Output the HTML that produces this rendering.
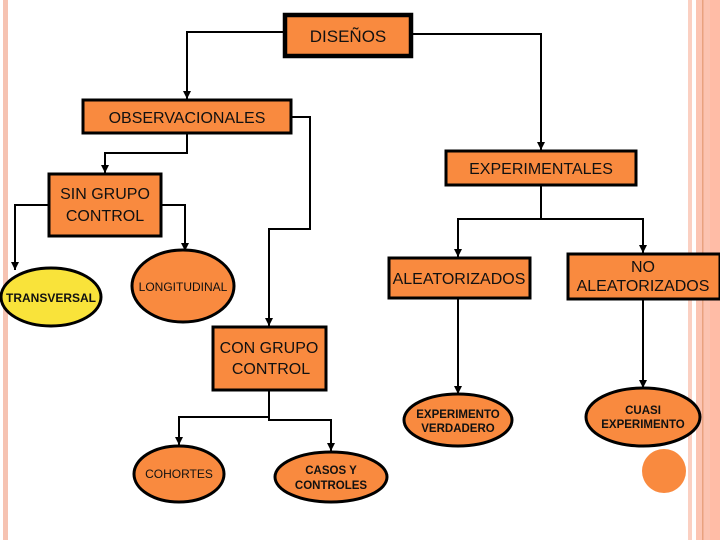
<!DOCTYPE html>
<html><head><meta charset="utf-8"><style>
html,body{margin:0;padding:0;background:#fff;width:720px;height:540px;overflow:hidden}
svg text{font-family:"Liberation Sans",sans-serif;fill:#111}
</style></head><body>
<svg width="720" height="540" viewBox="0 0 720 540" xmlns="http://www.w3.org/2000/svg">
<defs><marker id="a" markerWidth="8" markerHeight="8" refX="4" refY="7" orient="auto" markerUnits="userSpaceOnUse"><path d="M0,0 L8,0 L4,8 z" fill="#000" transform="rotate(-90 4 4)"/></marker>
<marker id="d" viewBox="0 0 8 8" markerWidth="8" markerHeight="8" refX="4" refY="8" orient="0" markerUnits="userSpaceOnUse"><path d="M0,0 L8,0 L4,8 z" fill="#000"/></marker></defs>
<rect x="3" y="0" width="5" height="540" fill="#f6c3b2"/>
<rect x="688" y="0" width="4" height="540" fill="#fbd0c2"/>
<rect x="696" y="0" width="6" height="540" fill="#fcc5b3"/>
<rect x="702" y="0" width="1.5" height="540" fill="#e9a27f"/>
<rect x="703.5" y="0" width="6.5" height="540" fill="#fcc3b0"/>
<rect x="710" y="0" width="10" height="540" fill="#ffbca6"/>
<g fill="none" stroke="#000" stroke-width="2">
<polyline points="284,32 187,32 187,99" marker-end="url(#d)"/>
<polyline points="412,34 541,34 541,150" marker-end="url(#d)"/>
<polyline points="187,134 187,153 105,153 105,173" marker-end="url(#d)"/>
<polyline points="292,117 310,117 310,229 269,229 269,326" marker-end="url(#d)"/>
<polyline points="48,205 15,205 15,270" marker-end="url(#d)"/>
<polyline points="162,205 185,205 185,251" marker-end="url(#d)"/>
<polyline points="541,186 541,219 458,219 458,257" marker-end="url(#d)"/>
<polyline points="541,219 643,219 643,253" marker-end="url(#d)"/>
<polyline points="269,390 269,417 179,417 179,445" marker-end="url(#d)"/>
<polyline points="269,417 269,420 331,420 331,451" marker-end="url(#d)"/>
<polyline points="458,299 458,394" marker-end="url(#d)"/>
<polyline points="643,299 643,388" marker-end="url(#d)"/>
</g>
<g fill="#f98a3f" stroke="#000" stroke-width="3">
<rect x="285" y="15" width="126" height="41" stroke-width="4.5"/>
<rect x="83" y="100" width="208" height="33"/>
<rect x="446" y="151" width="190" height="34"/>
<rect x="49" y="174" width="112" height="62"/>
<rect x="389" y="258" width="141" height="40"/>
<rect x="568" y="254" width="152" height="45"/>
<rect x="213" y="327" width="113" height="63"/>
<ellipse cx="51" cy="297" rx="50" ry="29" fill="#f9e33a"/>
<ellipse cx="183" cy="286" rx="51" ry="36"/>
<ellipse cx="179" cy="474" rx="45" ry="28"/>
<ellipse cx="331" cy="477" rx="56" ry="25"/>
<ellipse cx="458" cy="420" rx="54" ry="26"/>
<ellipse cx="643" cy="417" rx="57" ry="29"/>
</g>
<ellipse cx="664" cy="471" rx="22" ry="22" fill="#f98a3f"/>
<g text-anchor="middle" font-size="16">
<text x="348" y="42" font-size="17">DISEÑOS</text>
<text x="187" y="123">OBSERVACIONALES</text>
<text x="541" y="174">EXPERIMENTALES</text>
<text x="105" y="199">SIN GRUPO</text>
<text x="105" y="221">CONTROL</text>
<text x="459" y="284">ALEATORIZADOS</text>
<text x="643" y="272">NO</text>
<text x="643" y="291">ALEATORIZADOS</text>
<text x="269" y="353">CON GRUPO</text>
<text x="271" y="374">CONTROL</text>
</g>
<g text-anchor="middle" font-size="12" font-weight="bold">
<text x="51" y="302" font-size="12">TRANSVERSAL</text>
<text x="183" y="291" font-size="12" font-weight="normal">LONGITUDINAL</text>
<text x="179" y="478" font-weight="normal">COHORTES</text>
<text x="331" y="474" font-size="11.5">CASOS Y</text>
<text x="331" y="489" font-size="11.5">CONTROLES</text>
<text x="458" y="418" font-size="11.5">EXPERIMENTO</text>
<text x="458" y="432" font-size="11.5">VERDADERO</text>
<text x="643" y="414" font-size="11.5">CUASI</text>
<text x="643" y="428" font-size="11.5">EXPERIMENTO</text>
</g>
</svg>
</body></html>
